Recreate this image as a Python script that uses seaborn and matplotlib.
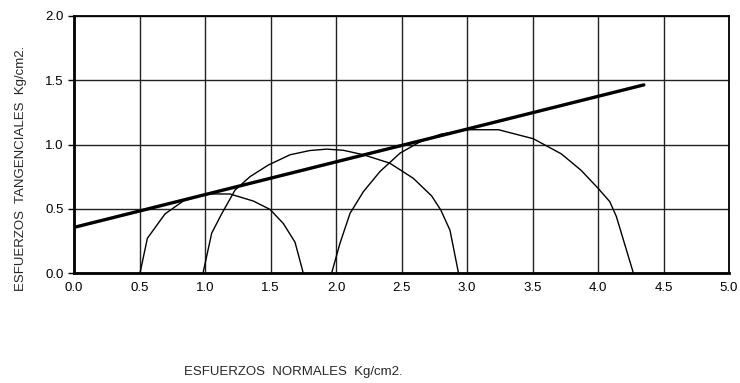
import matplotlib
matplotlib.use("Agg")
import matplotlib.pyplot as plt
import seaborn as sns
import pandas as pd

# Mohr circle 1 (sigma, tau)
c1_x = [0.504, 0.56, 0.695, 0.834, 1.013, 1.19, 1.369, 1.496, 1.598, 1.687, 1.75]
c1_y = [0.0, 0.27, 0.46, 0.56, 0.615, 0.615, 0.56, 0.495, 0.385, 0.24, 0.0]
# Mohr circle 2
c2_x = [0.985, 1.051, 1.127, 1.229, 1.344, 1.483, 1.649, 1.80, 1.93, 2.056, 2.21, 2.41, 2.59, 2.73, 2.80, 2.87, 2.935]
c2_y = [0.0, 0.31, 0.46, 0.645, 0.75, 0.84, 0.92, 0.953, 0.964, 0.955, 0.92, 0.855, 0.737, 0.60, 0.49, 0.333, 0.0]
# Mohr circle 3
c3_x = [1.967, 2.03, 2.107, 2.209, 2.336, 2.489, 2.64, 2.80, 3.0, 3.24, 3.506, 3.72, 3.87, 4.0, 4.09, 4.14, 4.27]
c3_y = [0.0, 0.23, 0.464, 0.633, 0.79, 0.933, 1.02, 1.08, 1.115, 1.115, 1.045, 0.927, 0.80, 0.66, 0.555, 0.44, 0.0]
# Failure envelope
env_x = [0.0, 4.35]
env_y = [0.355, 1.464]

x_ticks = [0.0, 0.5, 1.0, 1.5, 2.0, 2.5, 3.0, 3.5, 4.0, 4.5, 5.0]
y_ticks = [0.0, 0.5, 1.0, 1.5, 2.0]

sns.set_style("white")
plt.rcParams['font.family'] = ['Liberation Sans', 'DejaVu Sans']

fig = plt.figure(figsize=(7.4, 3.83), dpi=100)
ax = fig.add_axes([74/740, (383-273)/383, (729-74)/740, (273-16)/383])

circles = pd.concat([
    pd.DataFrame({"s": c1_x, "t": c1_y, "c": "1"}),
    pd.DataFrame({"s": c2_x, "t": c2_y, "c": "2"}),
    pd.DataFrame({"s": c3_x, "t": c3_y, "c": "3"}),
])
for name, g in circles.groupby("c"):
    sns.lineplot(data=g, x="s", y="t", sort=False, color="black", linewidth=1.0, ax=ax, legend=False)
env = pd.DataFrame({"s": env_x, "t": env_y})
sns.lineplot(data=env, x="s", y="t", sort=False, color="black", linewidth=2.4, ax=ax, legend=False)

ax.set_xlim(0, 5)
ax.set_ylim(0, 2)
ax.set_xticks(x_ticks)
ax.set_yticks(y_ticks)
ax.set_xticklabels([f"{v:.1f}" for v in x_ticks])
ax.set_yticklabels([f"{v:.1f}" for v in y_ticks])
ax.grid(True, color="#222222", linewidth=1.0)
ax.set_axisbelow(True)
for side in ["top", "right"]:
    ax.spines[side].set_visible(True)
    ax.spines[side].set_color("black")
    ax.spines[side].set_linewidth(1.3)
for side in ["left", "bottom"]:
    ax.spines[side].set_color("black")
    ax.spines[side].set_linewidth(2.0)
ax.tick_params(axis="x", length=0, pad=6.5, labelsize=9.5, colors="black")
ax.tick_params(axis="y", direction="out", length=4, width=1.0, pad=3.5, labelsize=9.5, colors="black", left=True)
ax.set_xlabel("")
ax.set_ylabel("")

fig.text(21/740, (383-168)/383, "ESFUERZOS  TANGENCIALES  Kg/cm2.", rotation=90,
         ha="center", va="center", fontsize=9.5)
fig.text(293/740, (383-372)/383, "ESFUERZOS  NORMALES  Kg/cm2.", ha="center", va="center", fontsize=9.5)

fig.savefig("out.png", dpi=100)
